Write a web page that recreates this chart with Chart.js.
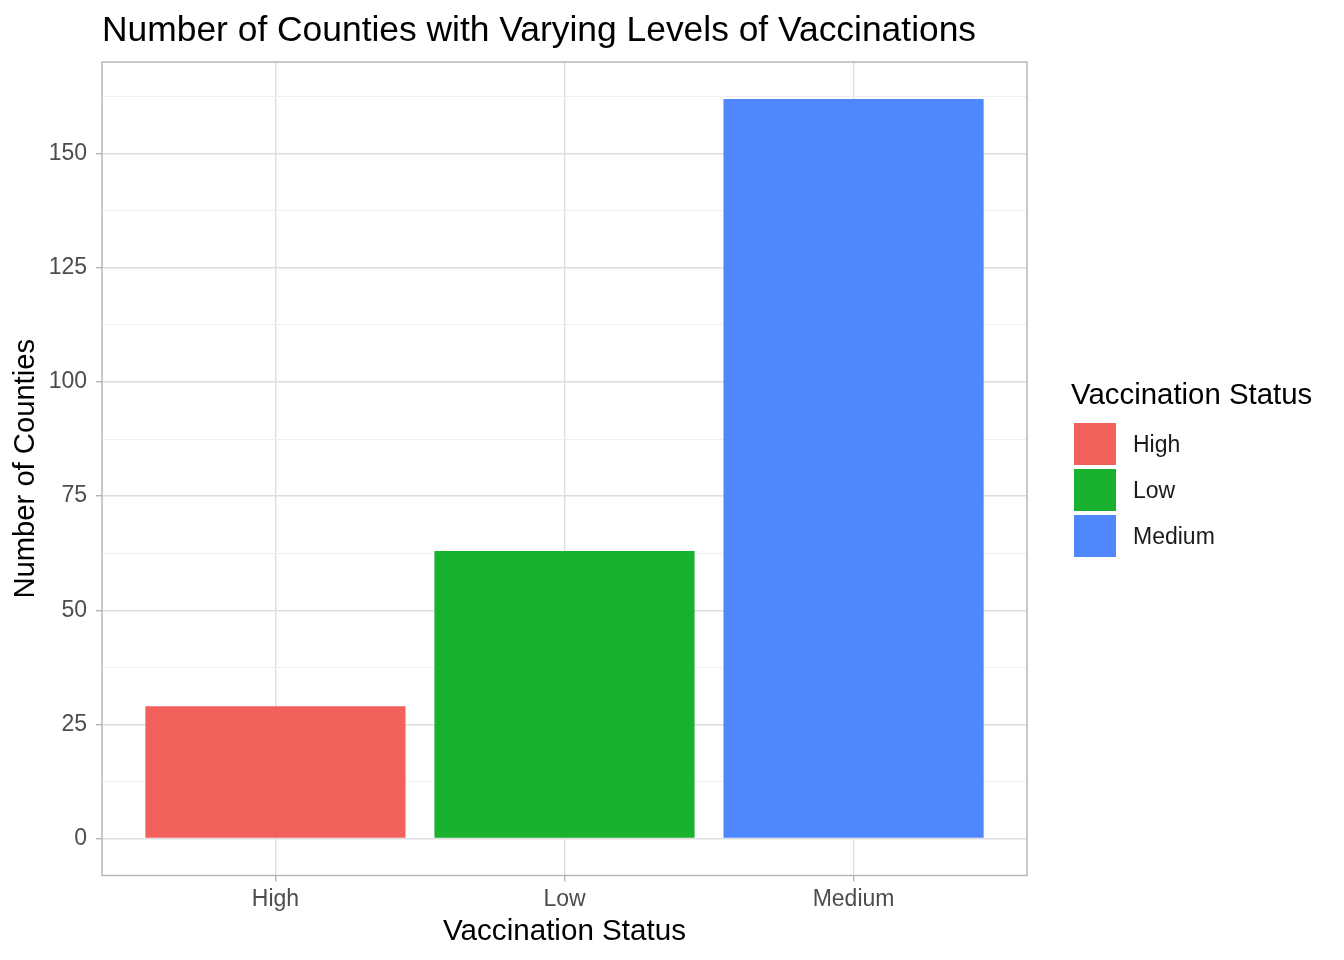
<!DOCTYPE html>
<html>
<head>
<meta charset="utf-8">
<script src="https://cdn.jsdelivr.net/npm/chart.js@4.4.1/dist/chart.umd.min.js"></script>
<style>
    html, body { margin: 0; padding: 0; background: #fff; }
    #wrap { position: relative; width: 1344px; height: 960px; font-family: "Liberation Sans", Arial, sans-serif; }
    #legendTitle { position: absolute; left: 1071px; top: 378.5px; font-size: 29.4px; line-height: 29.4px; color: #000; white-space: nowrap; }
    .key-row { position: absolute; left: 1074px; height: 42px; display: flex; align-items: center; }
    .key-box { width: 42px; height: 42px; }
    .key-label { margin-left: 17px; font-size: 23px; line-height: 42px; color: #1a1a1a; }
</style>
</head>
<body>
<div id="wrap">
    <canvas id="vaxChart" width="1344" height="960"></canvas>
    <div id="legendTitle">Vaccination Status</div>
    <div id="legendRows"></div>
</div>
<script>
// Data
const categories = ['High', 'Low', 'Medium'];
const counties = [29, 63, 162];
const barColors = ['#F2605B', '#19B22F', '#4F87FF'];
const yMajorTicks = [0, 25, 50, 75, 100, 125, 150];
const yMinorTicks = [12.5, 37.5, 62.5, 87.5, 112.5, 137.5, 162.5];

const FONT = '"Liberation Sans", Arial, sans-serif';
const GRID_MAJOR = '#dedede';
const GRID_MINOR = '#efefef';
const FRAME = '#b3b3b3';

// Legend (HTML, next to the panel)
const legendRows = document.getElementById('legendRows');
categories.forEach((cat, i) => {
    const row = document.createElement('div');
    row.className = 'key-row';
    row.style.top = (423 + i * 46) + 'px';
    row.innerHTML = `<div class="key-box" style="background:${barColors[i]}"></div><span class="key-label">${cat}</span>`;
    legendRows.appendChild(row);
});

// Panel border round the chart area (ggplot style)
const panelBorder = {
    id: 'panelBorder',
    afterDatasetsDraw(chart) {
        const { ctx, chartArea: a } = chart;
        ctx.save();
        ctx.strokeStyle = FRAME;
        ctx.lineWidth = 1.4;
        ctx.strokeRect(a.left, a.top, a.right - a.left, a.bottom - a.top);
        ctx.restore();
    }
};

// Plot title, left aligned with the panel
const plotTitle = {
    id: 'plotTitle',
    afterDraw(chart) {
        const { ctx, chartArea: a } = chart;
        ctx.save();
        ctx.font = '35.4px ' + FONT;
        ctx.fillStyle = '#000';
        ctx.textBaseline = 'alphabetic';
        ctx.textAlign = 'left';
        ctx.fillText('Number of Counties with Varying Levels of Vaccinations', a.left, 41);
        ctx.restore();
    }
};

const yTickValues = yMajorTicks.concat(yMinorTicks).sort((a, b) => a - b);

new Chart(document.getElementById('vaxChart').getContext('2d'), {
    type: 'bar',
    data: {
        datasets: [{
            label: 'Vaccination Status',
            data: categories.map((c, i) => ({ x: i + 1, y: counties[i] })),
            backgroundColor: barColors,
            borderWidth: 0,
            barPercentage: 0.9,
            categoryPercentage: 1
        }]
    },
    options: {
        responsive: false,
        animation: false,
        devicePixelRatio: 1,
        layout: { padding: { left: 0, right: 317, top: 62, bottom: 0 } },
        plugins: {
            legend: { display: false },
            title: { display: false },
            tooltip: { enabled: false }
        },
        scales: {
            x: {
                type: 'linear',
                offset: false,
                min: 0.4,
                max: 3.6,
                afterBuildTicks: scale => { scale.ticks = categories.map((c, i) => ({ value: i + 1 })); },
                afterFit: scale => { scale.height = 84.5; },
                border: { display: false },
                grid: { offset: false, color: GRID_MAJOR, lineWidth: 1.4, tickLength: 6, tickColor: FRAME, tickWidth: 1.4 },
                ticks: {
                    autoSkip: false,
                    maxRotation: 0,
                    padding: 4,
                    color: '#4d4d4d',
                    font: { family: FONT, size: 23 },
                    callback: value => categories[value - 1]
                },
                title: {
                    display: true,
                    text: 'Vaccination Status',
                    color: '#000',
                    font: { family: FONT, size: 29.6 },
                    padding: { top: 0, bottom: 10.3 }
                }
            },
            y: {
                min: -8.1,
                max: 170.1,
                afterBuildTicks: scale => { scale.ticks = yTickValues.map(v => ({ value: v })); },
                afterFit: scale => { scale.width = 102; },
                border: { display: false },
                grid: {
                    color: c => yMajorTicks.includes(c.tick.value) ? GRID_MAJOR : GRID_MINOR,
                    lineWidth: c => yMajorTicks.includes(c.tick.value) ? 1.4 : 1,
                    tickLength: 6,
                    tickColor: c => yMajorTicks.includes(c.tick.value) ? FRAME : 'rgba(0,0,0,0)',
                    tickWidth: 1.4
                },
                ticks: {
                    autoSkip: false,
                    padding: 9,
                    color: '#4d4d4d',
                    font: { family: FONT, size: 23 },
                    callback: value => yMajorTicks.includes(value) ? String(value) : ''
                },
                title: {
                    display: true,
                    text: 'Number of Counties',
                    color: '#000',
                    font: { family: FONT, size: 29.2 },
                    padding: { top: 8.5, bottom: 0 }
                }
            }
        }
    },
    plugins: [panelBorder, plotTitle]
});
</script>
</body>
</html>
